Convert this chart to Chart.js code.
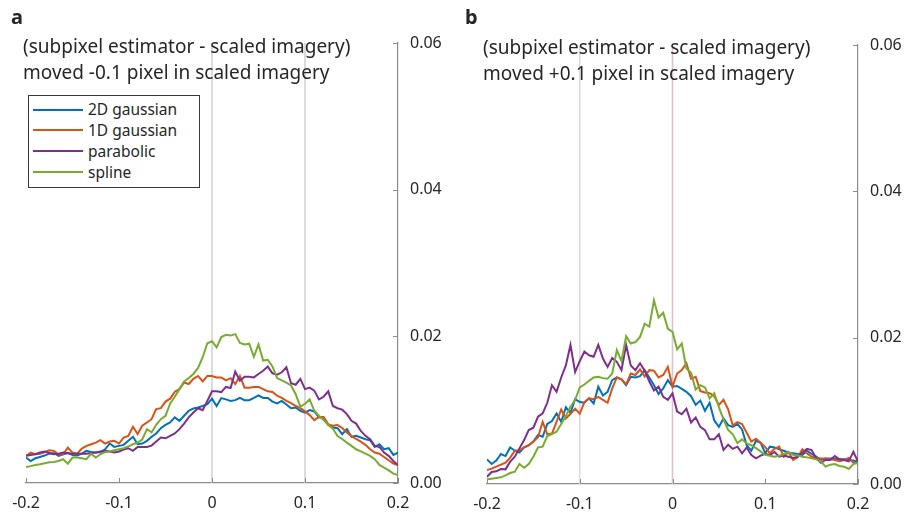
<!DOCTYPE html>
<html>
<head>
<meta charset="utf-8">
<script src="https://cdn.jsdelivr.net/npm/chart.js@4/dist/chart.umd.min.js"></script>
<style>
  html,body{margin:0;padding:0;background:#fff;}
  body{width:923px;height:513px;position:relative;overflow:hidden;font-family:'Noto Sans',sans-serif;color:#262626;}
  canvas{position:absolute;left:0;top:0;}
  .lbl{position:absolute;white-space:nowrap;}
  .panel{font-weight:bold;font-size:20px;line-height:20px;}
  .title{font-size:19px;line-height:26.7px;}
  .legend{position:absolute;border:1px solid #3a3a3a;background:#fff;box-sizing:border-box;}
  .legrow{position:absolute;left:0;height:21px;}
  .legline{position:absolute;left:4px;width:50px;height:2px;top:9.5px;}
  .legtext{position:absolute;left:59px;top:0;font-size:15.5px;line-height:21px;}
</style>
</head>
<body>
<canvas id="cA" width="923" height="513"></canvas>
<canvas id="cB" width="923" height="513"></canvas>
<div class="lbl panel" style="left:11px;top:7px;">a</div>
<div class="lbl panel" style="left:465px;top:7px;">b</div>
<div class="lbl title" id="titleA" style="left:23px;top:32.6px;"></div>
<div class="lbl title" id="titleB" style="left:483px;top:33.6px;"></div>
<div class="legend" id="legA" style="left:28px;top:95px;width:172px;height:93px;"></div>
<script>
// ---------- data ----------
const seriesNames = ['2D gaussian', '1D gaussian', 'parabolic', 'spline'];
const seriesColors = ['#0072BD', '#D95319', '#7E2F8E', '#77AC30'];
const titleA = ['(subpixel estimator - scaled imagery)', 'moved -0.1 pixel in scaled imagery'];
const titleB = ['(subpixel estimator - scaled imagery)', 'moved +0.1 pixel in scaled imagery'];
const xTickValues = [-0.2, -0.1, 0, 0.1, 0.2];
const xTickLabels = ['-0.2', '-0.1', '0', '0.1', '0.2'];
const yTickValues = [0, 0.02, 0.04, 0.06];
const yTickLabels = ['0.00', '0.02', '0.04', '0.06'];
const refLinesA = [0, 0.1];
const refLinesB = [-0.1, 0];

const xValues = [
 -0.200,-0.195,-0.190,-0.185,-0.180,-0.175,-0.170,-0.165,-0.160,-0.155,
 -0.150,-0.145,-0.140,-0.135,-0.130,-0.125,-0.120,-0.115,-0.110,-0.105,
 -0.100,-0.095,-0.090,-0.085,-0.080,-0.075,-0.070,-0.065,-0.060,-0.055,
 -0.050,-0.045,-0.040,-0.035,-0.030,-0.025,-0.020,-0.015,-0.010,-0.005,
  0.000, 0.005, 0.010, 0.015, 0.020, 0.025, 0.030, 0.035, 0.040, 0.045,
  0.050, 0.055, 0.060, 0.065, 0.070, 0.075, 0.080, 0.085, 0.090, 0.095,
  0.100, 0.105, 0.110, 0.115, 0.120, 0.125, 0.130, 0.135, 0.140, 0.145,
  0.150, 0.155, 0.160, 0.165, 0.170, 0.175, 0.180, 0.185, 0.190, 0.195,
  0.200];

// panel a (moved -0.1 pixel)
const a2DGaussian = [
 0.00347,0.00300,0.00337,0.00355,0.00374,0.00400,0.00410,0.00370,0.00392,0.00410,
 0.00383,0.00374,0.00400,0.00438,0.00424,0.00415,0.00420,0.00460,0.00538,0.00492,
 0.00506,0.00520,0.00575,0.00630,0.00529,0.00538,0.00575,0.00630,0.00675,0.00748,
 0.00793,0.00825,0.00894,0.00848,0.00917,0.00985,0.01017,0.01030,0.01050,0.01076,
 0.01150,0.01050,0.01158,0.01140,0.01120,0.01130,0.01160,0.01130,0.01130,0.01160,
 0.01195,0.01160,0.01160,0.01110,0.01085,0.01120,0.01070,0.01020,0.01030,0.00985,
 0.00960,0.00994,0.00976,0.00894,0.00885,0.00793,0.00757,0.00748,0.00666,0.00734,
 0.00630,0.00643,0.00620,0.00597,0.00584,0.00492,0.00529,0.00460,0.00474,0.00383,
 0.00415];
const a1DGaussian = [
 0.00370,0.00415,0.00392,0.00400,0.00420,0.00447,0.00438,0.00392,0.00392,0.00483,
 0.00415,0.00400,0.00470,0.00506,0.00529,0.00550,0.00584,0.00538,0.00565,0.00575,
 0.00538,0.00620,0.00643,0.00766,0.00666,0.00780,0.00825,0.00870,0.01008,0.01020,
 0.01110,0.01150,0.01245,0.01280,0.01370,0.01350,0.01420,0.01460,0.01386,0.01460,
 0.01460,0.01440,0.01440,0.01400,0.01430,0.01350,0.01460,0.01300,0.01300,0.01310,
 0.01310,0.01280,0.01250,0.01240,0.01190,0.01160,0.01120,0.01090,0.01050,0.01020,
 0.00976,0.00926,0.00857,0.00900,0.00900,0.00800,0.00780,0.00790,0.00750,0.00690,
 0.00640,0.00600,0.00565,0.00520,0.00460,0.00415,0.00400,0.00355,0.00310,0.00265,
 0.00246];
const aParabolic = [
 0.00370,0.00383,0.00392,0.00415,0.00429,0.00410,0.00392,0.00400,0.00415,0.00406,
 0.00400,0.00400,0.00400,0.00400,0.00410,0.00415,0.00429,0.00438,0.00429,0.00415,
 0.00429,0.00456,0.00474,0.00438,0.00492,0.00492,0.00492,0.00510,0.00565,0.00620,
 0.00610,0.00643,0.00675,0.00734,0.00810,0.00894,0.00962,0.01020,0.00994,0.01120,
 0.01250,0.01250,0.01240,0.01310,0.01295,0.01520,0.01395,0.01450,0.01450,0.01440,
 0.01487,0.01530,0.01587,0.01496,0.01477,0.01510,0.01578,0.01360,0.01340,0.01420,
 0.01280,0.01300,0.01260,0.01140,0.01176,0.01250,0.01050,0.01020,0.01000,0.00940,
 0.00848,0.00810,0.00710,0.00643,0.00597,0.00506,0.00492,0.00415,0.00370,0.00300,
 0.00246];
const aSpline = [
 0.00219,0.00230,0.00246,0.00255,0.00270,0.00283,0.00287,0.00300,0.00324,0.00264,
 0.00347,0.00347,0.00337,0.00324,0.00400,0.00347,0.00392,0.00420,0.00429,0.00447,
 0.00460,0.00474,0.00497,0.00529,0.00552,0.00593,0.00734,0.00690,0.00793,0.00871,
 0.00917,0.01085,0.01176,0.01280,0.01386,0.01432,0.01487,0.01569,0.01715,0.01906,
 0.01933,0.01850,0.01990,0.02020,0.02010,0.02030,0.01910,0.01890,0.01900,0.01720,
 0.01890,0.01670,0.01680,0.01590,0.01430,0.01400,0.01370,0.01330,0.01210,0.01040,
 0.01080,0.01140,0.00985,0.00917,0.00860,0.00790,0.00740,0.00640,0.00600,0.00550,
 0.00506,0.00460,0.00430,0.00400,0.00370,0.00324,0.00246,0.00210,0.00173,0.00128,
 0.00110];

// panel b (moved +0.1 pixel)
const b2DGaussian = [
 0.00337,0.00273,0.00320,0.00410,0.00382,0.00500,0.00455,0.00430,0.00500,0.00528,
 0.00580,0.00670,0.00646,0.00820,0.00860,0.00965,0.00850,0.01050,0.00974,0.01160,
 0.01120,0.01110,0.01170,0.01100,0.01330,0.01210,0.01260,0.01420,0.01456,0.01430,
 0.01350,0.01465,0.01456,0.01474,0.01556,0.01456,0.01350,0.01230,0.01306,0.01420,
 0.01330,0.01340,0.01300,0.01260,0.01200,0.01080,0.01140,0.01000,0.01110,0.00870,
 0.00780,0.00896,0.00805,0.00780,0.00820,0.00746,0.00530,0.00455,0.00590,0.00564,
 0.00423,0.00510,0.00500,0.00473,0.00455,0.00428,0.00419,0.00410,0.00396,0.00455,
 0.00410,0.00373,0.00328,0.00350,0.00350,0.00346,0.00337,0.00337,0.00328,0.00320,
 0.00305];
const b1DGaussian = [
 0.00191,0.00210,0.00237,0.00264,0.00290,0.00360,0.00455,0.00460,0.00500,0.00530,
 0.00580,0.00640,0.00850,0.00680,0.00690,0.00850,0.01020,0.00896,0.00960,0.01030,
 0.00960,0.01120,0.01170,0.01160,0.01190,0.01150,0.01110,0.01306,0.01456,0.01430,
 0.01360,0.01510,0.01490,0.01565,0.01470,0.01556,0.01550,0.01456,0.01490,0.01600,
 0.01330,0.01510,0.01556,0.01650,0.01440,0.01465,0.01270,0.01250,0.01240,0.01200,
 0.01080,0.01150,0.01020,0.00800,0.00846,0.00820,0.00700,0.00580,0.00620,0.00564,
 0.00505,0.00419,0.00480,0.00510,0.00373,0.00437,0.00328,0.00364,0.00473,0.00419,
 0.00373,0.00360,0.00350,0.00350,0.00337,0.00328,0.00310,0.00328,0.00355,0.00290,
 0.00282];
const bParabolic = [
 0.00100,0.00164,0.00173,0.00205,0.00200,0.00305,0.00373,0.00487,0.00600,0.00737,
 0.00770,0.00920,0.00965,0.01110,0.01350,0.01260,0.01456,0.01620,0.01900,0.01530,
 0.01680,0.01810,0.01760,0.01740,0.01900,0.01715,0.01600,0.01720,0.01670,0.01556,
 0.01900,0.01620,0.01556,0.01650,0.01550,0.01400,0.01280,0.01330,0.01190,0.01150,
 0.01240,0.00990,0.00955,0.01030,0.00840,0.00910,0.00780,0.00737,0.00610,0.00610,
 0.00680,0.00464,0.00537,0.00480,0.00510,0.00419,0.00500,0.00396,0.00350,0.00387,
 0.00414,0.00396,0.00437,0.00373,0.00390,0.00373,0.00355,0.00373,0.00428,0.00480,
 0.00464,0.00350,0.00290,0.00328,0.00328,0.00382,0.00337,0.00328,0.00310,0.00440,
 0.00305];
const bSpline = [
 0.00064,0.00073,0.00082,0.00091,0.00118,0.00150,0.00168,0.00273,0.00223,0.00273,
 0.00373,0.00500,0.00510,0.00655,0.00683,0.00714,0.00819,0.00928,0.01056,0.01147,
 0.01320,0.01360,0.01410,0.01456,0.01465,0.01447,0.01438,0.01510,0.01830,0.01680,
 0.02020,0.01920,0.01940,0.02010,0.02190,0.02150,0.02510,0.02275,0.02340,0.02120,
 0.02080,0.01840,0.01920,0.01580,0.01520,0.01290,0.01350,0.01320,0.01170,0.01240,
 0.01050,0.00880,0.00740,0.00680,0.00560,0.00610,0.00555,0.00530,0.00490,0.00446,
 0.00400,0.00387,0.00373,0.00387,0.00410,0.00437,0.00400,0.00390,0.00373,0.00364,
 0.00350,0.00337,0.00310,0.00237,0.00264,0.00273,0.00246,0.00237,0.00205,0.00273,
 0.00290];

// ---------- chart setup ----------
Chart.defaults.font.family = "'Noto Sans', sans-serif";
Chart.defaults.font.size = 16;
Chart.defaults.color = '#262626';

const AXIS_COLOR = '#8c8c8c';

const refLinePlugin = {
  id: 'refLines',
  beforeDatasetsDraw(chart, args, opts) {
    const {ctx, chartArea: a, scales: {x}} = chart;
    ctx.save();
    ctx.lineWidth = 1.6;
    (opts.values || []).forEach((v, i) => {
      const px = x.getPixelForValue(v);
      ctx.strokeStyle = opts.colors[i];
      ctx.beginPath();
      ctx.moveTo(px, a.top);
      ctx.lineTo(px, a.bottom);
      ctx.stroke();
    });
    ctx.restore();
  }
};

const inwardTicksPlugin = {
  id: 'inwardTicks',
  afterDraw(chart) {
    const {ctx, chartArea: a, scales: {x, y}} = chart;
    ctx.save();
    ctx.strokeStyle = AXIS_COLOR;
    ctx.lineWidth = 1;
    ctx.beginPath();
    x.ticks.forEach(t => {
      const px = Math.round(x.getPixelForValue(t.value)) + 0.5;
      ctx.moveTo(px, a.bottom);
      ctx.lineTo(px, a.bottom - 5);
    });
    y.ticks.forEach(t => {
      const py = Math.round(y.getPixelForValue(t.value)) + 0.5;
      ctx.moveTo(a.right, py);
      ctx.lineTo(a.right - 5, py);
    });
    ctx.stroke();
    ctx.restore();
  }
};

function makeDatasets(seriesList) {
  return seriesList.map((vals, i) => ({
    label: seriesNames[i],
    data: xValues.map((xv, j) => ({x: xv, y: vals[j]})),
    borderColor: seriesColors[i],
    backgroundColor: seriesColors[i],
    borderWidth: 2,
    pointRadius: 0,
    tension: 0,
    fill: false,
    order: 3 - i
  }));
}

function makeChart(canvasId, seriesList, refValues, refColors, pad, xHeight) {
  return new Chart(document.getElementById(canvasId), {
    type: 'line',
    data: {datasets: makeDatasets(seriesList)},
    options: {
      responsive: false,
      animation: false,
      devicePixelRatio: 1,
      layout: {padding: pad},
      plugins: {
        legend: {display: false},
        tooltip: {enabled: false},
        refLines: {values: refValues, colors: refColors}
      },
      scales: {
        x: {
          type: 'linear',
          min: -0.2, max: 0.2,
          afterBuildTicks(scale) { scale.ticks = xTickValues.map(v => ({value: v})); },
          afterFit(scale) { scale.height = xHeight; },
          ticks: {
            padding: 11,
            maxRotation: 0,
            color: '#262626',
            font: {size: 16},
            callback(v) { const k = xTickValues.findIndex(t => Math.abs(t - v) < 1e-9); return k >= 0 ? xTickLabels[k] : ''; }
          },
          grid: {display: false, drawTicks: false},
          border: {display: true, color: AXIS_COLOR, width: 1.2}
        },
        y: {
          type: 'linear',
          position: 'right',
          min: 0, max: 0.06,
          afterBuildTicks(scale) { scale.ticks = yTickValues.map(v => ({value: v})); },
          afterFit(scale) { scale.width = 45; },
          ticks: {
            padding: 12,
            color: '#262626',
            font: {size: 16},
            callback(v) { const k = yTickValues.findIndex(t => Math.abs(t - v) < 1e-9); return k >= 0 ? yTickLabels[k] : ''; }
          },
          grid: {display: false, drawTicks: false},
          border: {display: true, color: AXIS_COLOR, width: 1.2}
        }
      }
    },
    plugins: [refLinePlugin, inwardTicksPlugin]
  });
}

makeChart('cA', [a2DGaussian, a1DGaussian, aParabolic, aSpline], refLinesA, ['#d3d3d3', '#d3d3d3'],
  {left: 26, right: 480, top: 43, bottom: 0}, 30);
makeChart('cB', [b2DGaussian, b1DGaussian, bParabolic, bSpline], refLinesB, ['#ddd8db', '#dcc4cc'],
  {left: 487, right: 20, top: 45, bottom: 0}, 29);

// titles
document.getElementById('titleA').innerHTML = titleA.join('<br>');
document.getElementById('titleB').innerHTML = titleB.join('<br>');

// legend (panel a)
const leg = document.getElementById('legA');
const rowCenters = [13.5, 34, 55, 76];
seriesNames.forEach((name, i) => {
  const row = document.createElement('div');
  row.className = 'legrow';
  row.style.top = (rowCenters[i] - 10.5) + 'px';
  row.style.width = '100%';
  const ln = document.createElement('div');
  ln.className = 'legline';
  ln.style.background = seriesColors[i];
  const tx = document.createElement('div');
  tx.className = 'legtext';
  tx.textContent = name;
  row.appendChild(ln);
  row.appendChild(tx);
  leg.appendChild(row);
});
</script>
</body>
</html>
